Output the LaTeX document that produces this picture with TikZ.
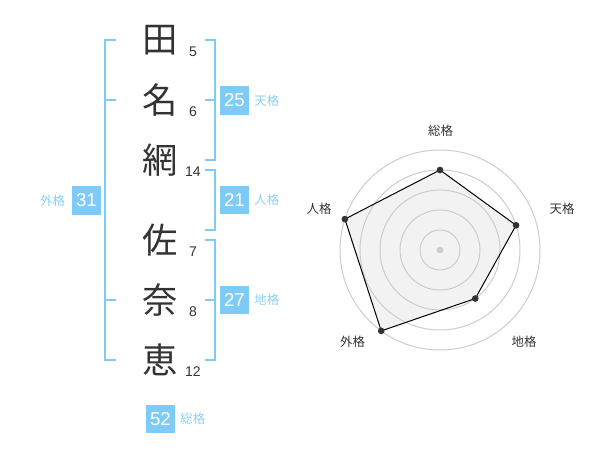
\documentclass[tikz,border=0pt]{standalone}
\usepackage{fontspec}
\setmainfont{Liberation Sans}
\newfontfamily\jp{Noto Sans CJK JP}
\usepackage{tikz}
\usetikzlibrary{positioning}
\definecolor{ink}{HTML}{333333}
\definecolor{sky}{HTML}{7FCBF7}
\definecolor{skytext}{HTML}{8CCFF5}
\definecolor{ring}{HTML}{CCCCCC}
\definecolor{area}{HTML}{F2F2F2}
\tikzset{
  brk/.style={draw=sky, line width=1.5pt},
  kanji/.style={text=ink, font=\jp\fontsize{26.5}{26.5}\selectfont, inner sep=0pt},
  strokes/.style={text=ink, font=\fontsize{10.5}{10.5}\selectfont, inner sep=0pt, anchor=base},
  score/.style={fill=sky, text=white, font=\fontsize{14}{14}\selectfont, minimum size=21.5pt, inner sep=0pt},
  kaku/.style={text=skytext, font=\jp\fontsize{9.3}{9.3}\selectfont, inner sep=0pt},
  grid/.style={draw=ring, line width=0.75pt},
  poly/.style={draw=black, line width=0.75pt, line join=round},
  dot/.style={circle, fill=ink, inner sep=0pt, minimum size=5pt},
  hubdot/.style={circle, fill=ring, inner sep=0pt, minimum size=5pt},
  lab/.style={text=ink, font=\jp\fontsize{9.3}{9.3}\selectfont, inner sep=0pt},
}
\begin{document}
\begin{tikzpicture}[x=0.75pt, y=-0.75pt]
  \useasboundingbox (0,0) rectangle (600,470);
  % name column
  \foreach \ch/\n/\y [count=\i] in {田/5/40, 名/6/100, 網/14/160, 佐/7/240, 奈/8/300, 恵/12/360} {
    \node[kanji] (c\i) at (160,\y) {\ch};
    \node[strokes] (n\i) at (193,\y+17) {\n};
  }
  % brackets
  \draw[brk] (116,40) -- (105,40) -- (105,360) -- (116,360);
  \draw[brk] (105,100) -- (116,100);
  \draw[brk] (105,300) -- (116,300);
  \draw[brk] (205,40) -- (215,40) -- (215,160) -- (205,160);
  \draw[brk] (205,100) -- (215,100);
  \draw[brk] (205,170) -- (215,170) -- (215,230) -- (205,230);
  \draw[brk] (205,240) -- (215,240) -- (215,360) -- (205,360);
  \draw[brk] (205,300) -- (215,300);
  % scores
  \node[score] (ten) at (234.5,100.5) {25};
  \node[kaku, right=3.75pt of ten] (tenl) {天格};
  \node[score] (jin) at (234.5,200) {21};
  \node[kaku, right=3.75pt of jin] (jinl) {人格};
  \node[score] (chi) at (234.5,300) {27};
  \node[kaku, right=3.75pt of chi] (chil) {地格};
  \node[score] (gai) at (86.5,200.5) {31};
  \node[kaku, left=5pt of gai] (gail) {外格};
  \node[score] (sou) at (160.5,419) {52};
  \node[kaku, right=3.75pt of sou] (soul) {総格};
  % radar
  \begin{scope}[shift={(440,250)}, y=0.75pt]
    \foreach \k/\a/\r in {sou/90/80, ten/18/80, chi/-54/60, gai/-126/100, jin/162/100}
      \coordinate (p\k) at (\a:\r);
    \fill[area] (psou) -- (pten) -- (pchi) -- (pgai) -- (pjin) -- cycle;
    \foreach \r in {20,40,...,100}
      \draw[grid] (0,0) circle[radius={\r*0.75pt}];
    \draw[poly] (psou) -- (pten) -- (pchi) -- (pgai) -- (pjin) -- cycle;
    \node[hubdot] (hub) at (0,0) {};
    \foreach \k in {sou,ten,chi,gai,jin}
      \node[dot] (d\k) at (p\k) {};
    \node[lab] (rsou) at (0.5,119) {総格};
    \node[lab] (rten) at (122,41.5) {天格};
    \node[lab] (rjin) at (-121,41.5) {人格};
    \node[lab] (rgai) at (-87.5,-91.5) {外格};
    \node[lab] (rchi) at (84,-91.5) {地格};
  \end{scope}
\end{tikzpicture}
\end{document}
